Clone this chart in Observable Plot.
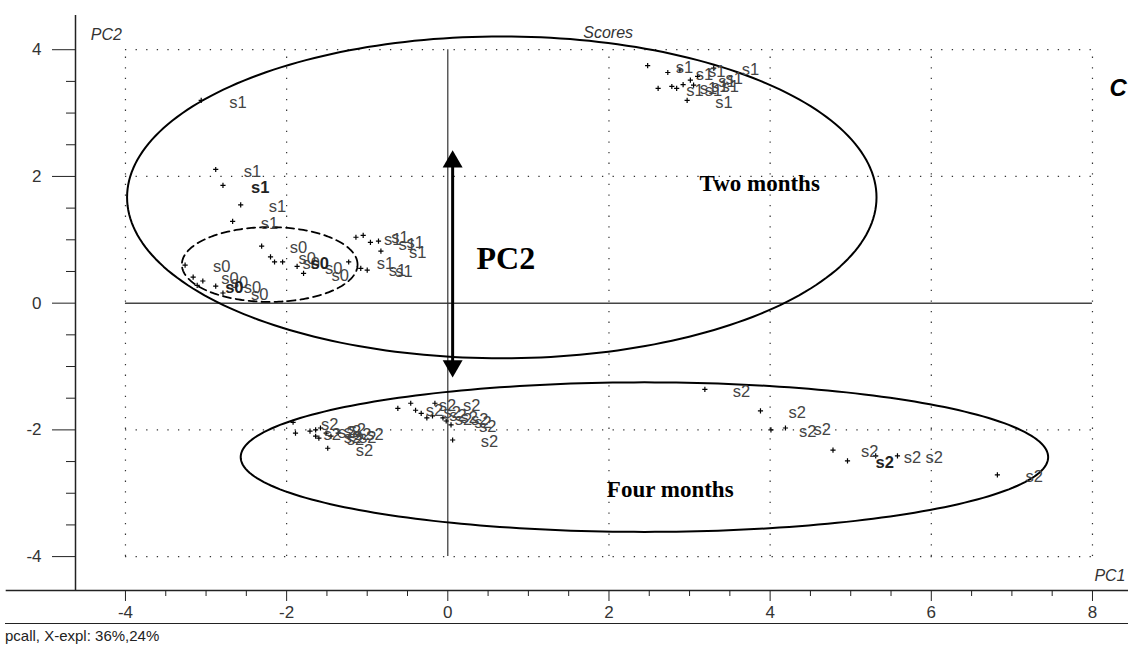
<!DOCTYPE html>
<html>
<head>
<meta charset="utf-8">
<script src="https://cdn.jsdelivr.net/npm/d3@7"></script>
<script src="https://cdn.jsdelivr.net/npm/@observablehq/plot@0.6"></script>
<style>
  html, body { margin: 0; padding: 0; background: #fff; }
  #chart { width: 1128px; }
  #chart svg { display: block; }
  #caption {
    margin-left: 5px;
    border-top: 1.5px solid #222;
    height: 23px;
    font-family: "Liberation Sans Narrow", "Liberation Sans", Arial, sans-serif;
    font-size: 15px;
    line-height: 23px;
    color: #222;
    box-sizing: border-box;
  }
</style>
</head>
<body>
<div id="chart"></div>
<div id="caption">pcall, X-expl: 36%,24%</div>
<script>
// ---- Scores (PC1, PC2) ----
const s0PC1 = [-3.26, -3.16, -3.04, -3.11, -2.88, -2.79, -2.31, -2.20, -2.15, -2.05, -1.87, -1.79];
const s0PC2 = [0.60, 0.41, 0.35, 0.28, 0.27, 0.16, 0.90, 0.73, 0.65, 0.65, 0.58, 0.47];
const s0Bold = [0, 0, 0, 1, 0, 0, 0, 0, 0, 1, 0, 0];

const s1PC1 = [-3.06, -2.88, -2.79, -2.57, -2.67,
  -1.14, -1.05, -0.96, -0.86, -0.83, -1.23, -1.08, -1.00,
  2.48, 2.73, 2.88, 3.10, 3.30, 2.61, 2.78, 2.84, 2.97, 2.92, 3.01, 3.05];
const s1PC2 = [3.20, 2.11, 1.86, 1.55, 1.29,
  1.04, 1.07, 0.96, 0.98, 0.82, 0.65, 0.55, 0.52,
  3.75, 3.64, 3.68, 3.58, 3.71, 3.39, 3.42, 3.39, 3.20, 3.45, 3.52, 3.44];
const s1Bold = [0, 0, 1, 0, 0,
  0, 0, 0, 0, 0, 0, 0, 0,
  0, 0, 0, 0, 0, 0, 0, 0, 0, 0, 0, 0];

const s2PC1 = [-1.92, -1.89, -1.71, -1.64, -1.58, -1.51, -1.36, -1.49, -1.64, -1.60, -1.45,
  -0.62, -0.46, -0.40, -0.33, -0.16, -0.19, -0.06, -0.02, 0.04, 0.06, -0.26,
  3.19, 3.88, 4.01, 4.19, 4.78, 4.96, 5.31, 5.58, 6.82];
const s2PC2 = [-1.88, -2.05, -2.02, -2.00, -1.97, -2.05, -2.05, -2.29, -2.10, -2.13, -2.10,
  -1.66, -1.58, -1.69, -1.74, -1.58, -1.78, -1.81, -1.86, -1.92, -2.16, -1.81,
  -1.36, -1.70, -2.00, -1.97, -2.32, -2.49, -2.41, -2.41, -2.71];
const s2Bold = [0, 0, 0, 0, 0, 0, 0, 0, 0, 0, 0,
  0, 0, 0, 0, 0, 0, 0, 0, 0, 0, 0,
  0, 0, 0, 0, 0, 1, 0, 0, 0];

// ---- Axis ticks ----
const xMajorTicks = [-4, -2, 0, 2, 4, 6, 8];
const xMinorTicks = [-3.5, -3, -2.5, -1.5, -1, -0.5, 0.5, 1, 1.5, 2.5, 3, 3.5, 4.5, 5, 5.5, 6.5, 7, 7.5];
const yMajorTicks = [-4, -2, 0, 2, 4];
const yMinorTicks = [-3.5, -3, -2.5, -1.5, -1, -0.5, 0.5, 1, 1.5, 2.5, 3, 3.5];
const gridX = [-4, -2, 2, 4, 6, 8];
const gridY = [-4, -2, 2, 4];

// ---- Group ellipses (centre PC1, centre PC2, half-width, half-height) ----
const ellipseNames = ["twoMonths", "fourMonths", "s0group"];
const ellipseCX = [0.67, 2.44, -2.21];
const ellipseCY = [1.67, -2.43, 0.61];
const ellipseRX = [4.65, 5.01, 1.09];
const ellipseRY = [2.54, 1.18, 0.59];

// ---- PC2 double-headed arrow ----
const arrowPC1 = [0.06];
const arrowTop = [2.23];
const arrowBottom = [-0.99];

// ---- Annotations ----
const annoText = ["Two months", "Four months", "PC2"];
const annoPC1 = [3.87, 2.76, 0.72];
const annoPC2 = [1.89, -2.94, 0.70];

// ---- build tables ----
function samples(xs, ys, bold, name) {
  return xs.map((x, i) => ({pc1: x, pc2: ys[i], label: name, bold: bold[i] === 1}));
}
const data = [
  ...samples(s0PC1, s0PC2, s0Bold, "s0"),
  ...samples(s1PC1, s1PC2, s1Bold, "s1"),
  ...samples(s2PC1, s2PC2, s2Bold, "s2")
];

function ellipsePath(i) {
  const n = 240, pts = [];
  for (let k = 0; k <= n; k++) {
    const t = (k / n) * 2 * Math.PI;
    pts.push({x: ellipseCX[i] + ellipseRX[i] * Math.cos(t), y: ellipseCY[i] + ellipseRY[i] * Math.sin(t), g: ellipseNames[i]});
  }
  return pts;
}
const solidEllipses = [...ellipsePath(0), ...ellipsePath(1)];
const dashedEllipse = ellipsePath(2);

const annos = annoText.map((t, i) => ({text: t, x: annoPC1[i], y: annoPC2[i]}));

const xDomain = [-4.62, 8.447];
const yDomain = [-4.535, 4.54];
const sans = "'Liberation Sans', Arial, sans-serif";
const narrow = "'Liberation Sans Narrow', 'Liberation Sans', Arial, sans-serif";
const serif = "'Liberation Serif', 'Times New Roman', serif";
const fmt = d => String(d);

const chart = Plot.plot({
  width: 1128,
  height: 623,
  marginLeft: 75,
  marginRight: 0,
  marginTop: 15,
  marginBottom: 33,
  x: {domain: xDomain, axis: null},
  y: {domain: yDomain, axis: null},
  style: {background: "#fff", color: "#222"},
  marks: [
    // dotted grid
    Plot.ruleX(gridX, {y1: -4, y2: 4, stroke: "#333", strokeDasharray: "1.3,9.3", strokeWidth: 1.2}),
    Plot.ruleY(gridY, {x1: -4, x2: 8, stroke: "#333", strokeDasharray: "1.3,9.3", strokeWidth: 1.2}),
    // zero lines
    Plot.ruleY([0], {x1: -4, x2: 8, stroke: "#444", strokeWidth: 1.5}),
    Plot.ruleX([0], {y1: -4, y2: 4, stroke: "#333", strokeWidth: 1.2}),
    // axis frame lines
    Plot.ruleX([xDomain[0]], {y1: yDomain[0], y2: yDomain[1], stroke: "#222", strokeWidth: 1.5}),
    Plot.ruleY([yDomain[0]], {x1: -5.48, x2: xDomain[1], stroke: "#222", strokeWidth: 1.5}),
    // axes
    Plot.axisY(yMajorTicks, {anchor: "left", tickSize: 23, tickPadding: 11, fontSize: 17, fontFamily: narrow, tickFormat: fmt, label: null, stroke: "#222", fill: "#333"}),
    Plot.axisY(yMinorTicks, {anchor: "left", tickSize: 9, text: null, label: null, stroke: "#222"}),
    Plot.axisX(xMajorTicks, {anchor: "bottom", tickSize: 11, tickPadding: 4, fontSize: 17, fontFamily: narrow, tickFormat: fmt, label: null, stroke: "#222", fill: "#333"}),
    Plot.axisX(xMinorTicks, {anchor: "bottom", tickSize: 6, text: null, label: null, stroke: "#222"}),
    // ellipses
    Plot.line(solidEllipses, {x: "x", y: "y", z: "g", stroke: "#000", strokeWidth: 2}),
    Plot.line(dashedEllipse, {x: "x", y: "y", stroke: "#000", strokeWidth: 1.8, strokeDasharray: "8,5"}),
    // arrow
    Plot.ruleX(arrowPC1, {y1: arrowTop, y2: arrowBottom, x: d => d, stroke: "#000", strokeWidth: 3}),
    Plot.dot(arrowPC1, {x: d => d, y: arrowTop, symbol: "triangle", r: 7.4, fill: "#000", stroke: "none"}),
    Plot.dot(arrowPC1, {x: d => d, y: arrowBottom, symbol: "triangle", r: 7.4, fill: "#000", stroke: "none", rotate: 180}),
    // sample points
    Plot.dot(data, {x: "pc1", y: "pc2", symbol: "plus", r: 1.8, stroke: "#000", strokeWidth: 1.2}),
    Plot.text(data.filter(d => !d.bold), {x: "pc1", y: "pc2", text: "label", textAnchor: "start", dx: 28, dy: 2, fontSize: 16.5, fontFamily: sans, fill: "#444"}),
    Plot.text(data.filter(d => d.bold), {x: "pc1", y: "pc2", text: "label", textAnchor: "start", dx: 28, dy: 2, fontSize: 16.5, fontWeight: "bold", fontFamily: sans, fill: "#222"}),
    // annotations
    Plot.text(annos.slice(0, 2), {x: "x", y: "y", text: "text", fontSize: 23, fontWeight: "bold", fontFamily: serif, fill: "#000"}),
    Plot.text(annos.slice(2), {x: "x", y: "y", text: "text", fontSize: 32, fontWeight: "bold", fontFamily: serif, fill: "#000"}),
    // plot titles
    Plot.text(["PC2"], {x: -4.43, y: 4.23, text: d => d, textAnchor: "start", fontSize: 16, fontStyle: "italic", fontFamily: sans, fill: "#333"}),
    Plot.text(["Scores"], {x: 1.99, y: 4.26, text: d => d, fontSize: 16, fontStyle: "italic", fontFamily: sans, fill: "#333"}),
    Plot.text(["PC1"], {x: 8.41, y: -4.30, text: d => d, textAnchor: "end", fontSize: 16, fontStyle: "italic", fontFamily: sans, fill: "#333"}),
    Plot.text(["C"], {x: 8.32, y: 3.39, text: d => d, fontSize: 24, fontStyle: "italic", fontWeight: "bold", fontFamily: sans, fill: "#000"})
  ]
});
document.getElementById("chart").appendChild(chart);
</script>
</body>
</html>
